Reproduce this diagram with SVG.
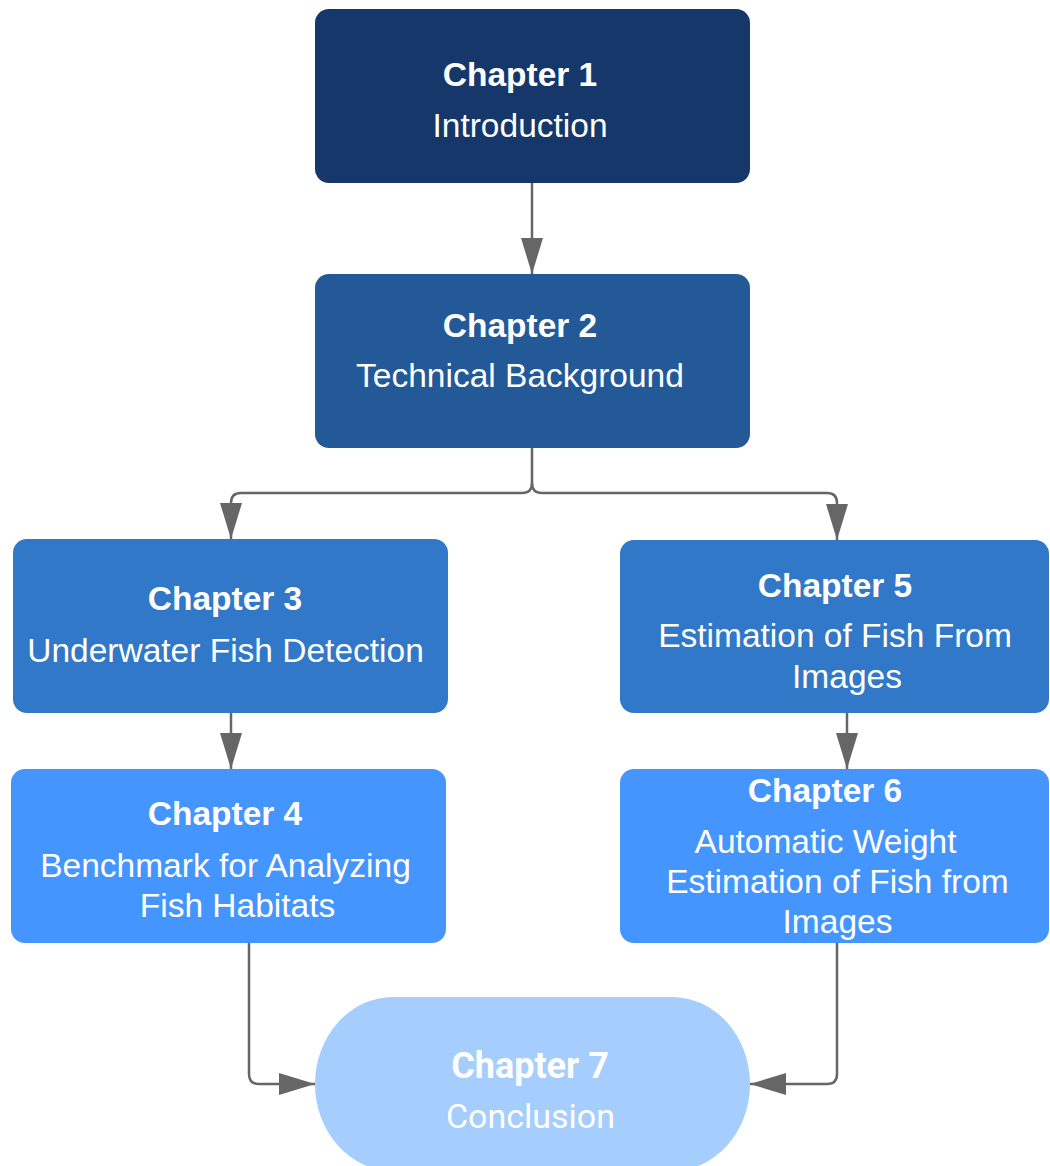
<svg xmlns="http://www.w3.org/2000/svg" width="1050" height="1166" viewBox="0 0 1050 1166">
<defs>
<style>
.t{font-family:"Liberation Sans",Arial,sans-serif;font-size:33.5px;fill:#ffffff;text-anchor:middle}
.b{font-weight:bold}
.t7{font-family:Roboto,"Liberation Sans",sans-serif;font-size:36px;fill:#ffffff;text-anchor:middle}
.c{fill:none;stroke:#666666;stroke-width:2.5}
</style>
<marker id="ah" viewBox="0 0 36 22" refX="36" refY="11" markerWidth="36" markerHeight="22" markerUnits="userSpaceOnUse" orient="auto">
<path d="M0,0 L36,11 L0,22 Z" fill="#666666"/>
</marker>
</defs>
<rect width="1050" height="1166" fill="#ffffff"/>
<g id="connectors">
<path class="c" d="M532,183 V274" marker-end="url(#ah)"/>
<path class="c" d="M532,448 V483 Q532,493 522,493 H241 Q231,493 231,503 V539" marker-end="url(#ah)"/>
<path class="c" d="M532,483 Q532,493 542,493 H827 Q837,493 837,503 V540" marker-end="url(#ah)"/>
<path class="c" d="M231,713 V769" marker-end="url(#ah)"/>
<path class="c" d="M847,713 V769" marker-end="url(#ah)"/>
<path class="c" d="M249,943 V1074 Q249,1084 259,1084 H315" marker-end="url(#ah)"/>
<path class="c" d="M837,943 V1074 Q837,1084 827,1084 H750" marker-end="url(#ah)"/>
</g>
<g id="node1">
<rect x="315" y="9" width="435" height="174" rx="14" fill="#15376a"/>
<text class="t b" x="520" y="86">Chapter 1</text>
<text class="t" x="520" y="137">Introduction</text>
</g>
<g id="node2">
<rect x="315" y="274" width="435" height="174" rx="14" fill="#245998"/>
<text class="t b" x="520" y="337">Chapter 2</text>
<text class="t" x="520" y="387">Technical Background</text>
</g>
<g id="node3">
<rect x="13" y="539" width="435" height="174" rx="14" fill="#3278c8"/>
<text class="t b" x="225" y="610">Chapter 3</text>
<text class="t" x="225.5" y="662">Underwater Fish Detection</text>
</g>
<g id="node4">
<rect x="11" y="769" width="435" height="174" rx="14" fill="#4595fe"/>
<text class="t b" x="225" y="825">Chapter 4</text>
<text class="t" x="225.5" y="877">Benchmark for Analyzing</text>
<text class="t" x="237.5" y="917">Fish Habitats</text>
</g>
<g id="node5">
<rect x="620" y="540" width="429" height="173" rx="14" fill="#3278c8"/>
<text class="t b" x="835" y="597">Chapter 5</text>
<text class="t" x="835" y="647">Estimation of Fish From</text>
<text class="t" x="847" y="688">Images</text>
</g>
<g id="node6">
<rect x="620" y="769" width="429" height="174" rx="14" fill="#4595fe"/>
<text class="t b" x="825" y="802">Chapter 6</text>
<text class="t" x="825.5" y="853">Automatic Weight</text>
<text class="t" x="837.5" y="893">Estimation of Fish from</text>
<text class="t" x="837.5" y="933">Images</text>
</g>
<g id="node7">
<rect x="315" y="997" width="435" height="174" rx="78" ry="87" fill="#a5cdfd"/>
<text class="t7 b" x="530" y="1078">Chapter 7</text>
<text class="t7" x="530.5" y="1128" style="font-size:34px">Conclusion</text>
</g>
</svg>
